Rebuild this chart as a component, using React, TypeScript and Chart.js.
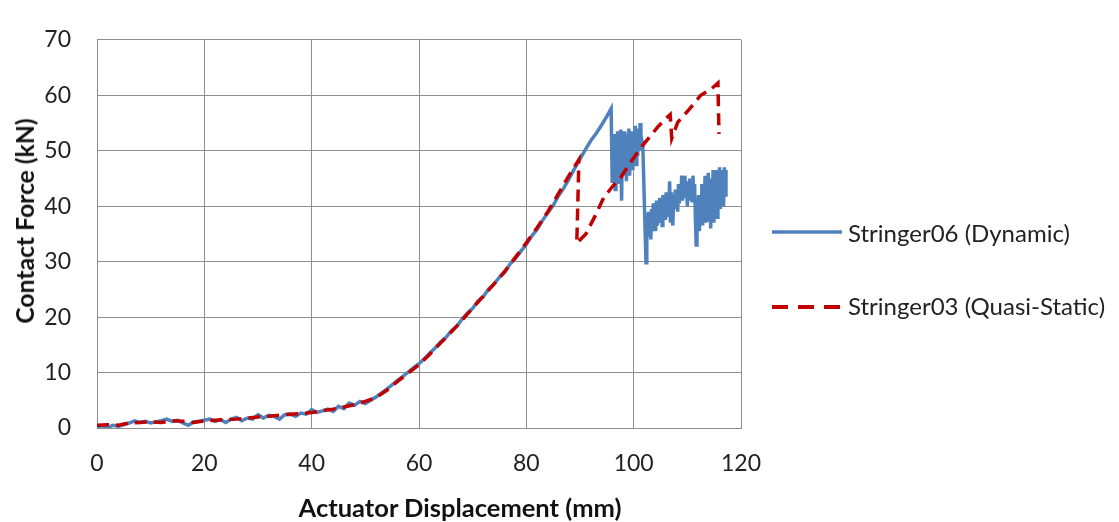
import { useEffect, useRef } from "react";
import { Chart, registerables } from "chart.js";

Chart.register(...registerables);

// ---------- DATA ----------
const dynamicDisp = [
  0, 1, 2, 3, 4, 5, 6, 7, 8, 9, 10, 11, 12, 13, 14, 15, 16, 17, 18, 19, 20,
  21, 22, 23, 24, 25, 26, 27, 28, 29, 30, 31, 32, 33, 34, 35, 36, 37, 38, 39, 40,
  41, 42, 43, 44, 45, 46, 47, 48, 49, 50, 51, 52, 53, 54, 55, 56, 57, 58, 59, 60,
  61, 62, 63, 64, 65, 66, 67, 68, 69, 70, 71, 72, 73, 74, 75, 76, 77, 78, 79, 80,
  81, 82, 83, 84, 85, 86, 87, 88, 89, 90, 91, 92, 93, 94, 95, 95.8,
  96.0, 96.1, 96.25, 96.4, 96.55, 96.7, 96.85, 97.0, 97.15, 97.3, 97.45, 97.6, 97.75, 97.9,
  98.05, 98.2, 98.35, 98.5, 98.65, 98.8, 98.95, 99.1, 99.25, 99.4, 99.55, 99.7, 99.85,
  100.0, 100.15, 100.3, 100.45, 100.6, 100.75, 100.9, 101.05, 101.2, 101.35, 101.5, 101.7,
  102.3, 102.45, 102.6, 102.75, 102.9, 103.05, 103.2, 103.35, 103.5, 103.65, 103.8, 103.95,
  104.1, 104.25, 104.4, 104.55, 104.7, 104.85, 105.0, 105.15, 105.3, 105.45, 105.6, 105.75,
  105.9, 106.05, 106.2, 106.35, 106.5, 106.7, 106.85, 107.0, 107.15, 107.3, 107.45, 107.6,
  107.75, 107.9, 108.05, 108.2, 108.35, 108.5, 108.65, 108.8, 108.95, 109.1, 109.25, 109.4,
  109.55, 109.7, 109.85, 110.0, 110.15, 110.3, 110.45, 110.6, 110.75, 110.9, 111.05, 111.2,
  111.35, 111.5, 111.65, 111.8, 111.95, 112.1, 112.25, 112.4, 112.55, 112.7, 112.85, 113.0,
  113.15, 113.3, 113.45, 113.6, 113.75, 113.9, 114.05, 114.2, 114.35, 114.5, 114.65, 114.8,
  114.95, 115.1, 115.25, 115.4, 115.55, 115.7, 115.85, 116.0, 116.15, 116.3, 116.45, 116.6,
  116.75, 116.9, 117.05, 117.2,
];
const dynamicForce = [
  0.2, 0.4, 0.1, 0.5, 0.3, 0.6, 0.9, 1.3, 1.0, 1.2, 0.9, 1.1, 1.3, 1.6, 1.2, 1.4, 0.9, 0.5, 1.1, 1.2, 1.4,
  1.6, 1.2, 1.5, 1.0, 1.6, 1.9, 1.3, 1.8, 1.6, 2.4, 1.8, 2.3, 2.1, 1.6, 2.4, 2.5, 2.1, 2.7, 2.5, 3.3,
  2.8, 3.1, 3.4, 3.0, 3.9, 3.5, 4.5, 4.1, 4.8, 4.4, 5.0, 5.6, 6.3, 7.0, 7.8, 8.6, 9.3, 10.1, 10.9, 11.6,
  12.5, 13.5, 14.4, 15.5, 16.3, 17.5, 18.3, 19.6, 20.7, 21.6, 22.9, 23.7, 25.1, 26.0, 27.2, 28.1, 29.6, 30.6, 31.9, 33.1,
  34.6, 35.8, 37.4, 38.8, 40.1, 41.9, 43.3, 45.0, 46.8, 48.5, 50.2, 51.8, 53.1, 54.6, 56.2, 57.6,
  44.5, 52.5, 45.5, 53.0, 43.0, 52.0, 46.5, 53.5, 44.0, 52.5, 47.0, 53.8, 41.0, 52.0,
  45.5, 53.5, 46.0, 52.0, 44.5, 53.0, 47.0, 54.0, 45.5, 52.5, 47.5, 53.5, 46.5,
  52.0, 48.0, 54.5, 47.5, 53.0, 49.0, 54.0, 50.0, 55.0, 50.5, 52.0, 51.0,
  29.8, 38.0, 34.5, 39.0, 35.0, 38.5, 34.0, 39.5, 35.5, 40.5, 36.0, 39.0,
  35.5, 41.0, 36.5, 40.0, 37.0, 41.5, 38.0, 40.5, 36.5, 42.0, 38.5, 41.0,
  37.5, 42.5, 39.0, 41.5, 38.0, 44.5, 37.0, 42.5, 39.0, 36.5, 42.0, 39.5,
  43.0, 40.0, 42.5, 39.0, 44.0, 40.5, 43.0, 41.5, 45.5, 41.0, 44.5, 42.0,
  45.5, 41.5, 44.0, 40.0, 44.5, 41.0, 45.0, 42.5, 44.5, 41.0, 45.5, 42.0,
  44.0, 38.0, 33.0, 40.5, 36.0, 42.0, 35.5, 41.5, 37.0, 44.0, 36.5, 43.5,
  38.0, 45.5, 37.0, 42.5, 38.5, 46.0, 37.5, 44.5, 36.0, 45.0, 38.5, 46.5,
  37.0, 44.0, 39.0, 46.5, 38.0, 45.0, 40.5, 47.0, 39.5, 44.5, 41.0, 46.5,
  40.0, 47.0, 42.0, 46.5,
];

const quasiDisp = [
  0, 2, 4, 6, 8, 10, 12, 14, 16, 18, 20, 22, 24, 26, 28, 30, 32, 34, 36, 38, 40,
  42, 44, 46, 48, 50, 52, 54, 56, 58, 60, 62, 64, 66, 68, 70, 72, 74, 76, 78, 80,
  82, 84, 86, 88, 89.8, 89.4, 91.1, 92.8, 94.4, 96, 97.6, 99.5, 101.3, 103, 104.5,
  105.7, 106.8, 107.1, 108.2, 110.3, 112.5, 114.4, 115.7, 115.9,
];
const quasiForce = [
  0.5, 0.6, 0.5, 0.9, 1.0, 1.1, 1.0, 1.3, 1.2, 1.0, 1.3, 1.4, 1.5, 1.6, 1.8, 2.0, 2.1, 2.3, 2.5, 2.6, 2.8,
  3.1, 3.4, 3.8, 4.2, 4.8, 5.5, 6.8, 8.4, 9.9, 11.4, 13.3, 15.3, 17.3, 19.4, 21.6, 23.8, 26.0, 28.3, 30.8, 33.4,
  36.1, 39.0, 42.3, 45.6, 48.4, 33.3, 35.0, 38.2, 41.5, 43.5, 45.2, 48.0, 50.5, 52.5, 54.3,
  55.5, 56.5, 52.2, 55.1, 57.4, 60.0, 61.1, 62.2, 53.0,
];

const seriesNames = ["Stringer06 (Dynamic)", "Stringer03 (Quasi-Static)"];
const xTitle = "Actuator Displacement (mm)";
const yTitle = "Contact Force (kN)";

const FONT = "Lato, 'Noto Sans', sans-serif";
const BLUE = "#4F81BD";
const RED = "#C00000";
const GRID = "#8e8e8e";

const zip = (xs: number[], ys: number[]) => xs.map((x, i) => ({ x, y: ys[i] }));

export default function App() {
  const ref = useRef<HTMLCanvasElement | null>(null);

  useEffect(() => {
    if (!ref.current) return;
    const chart = new Chart(ref.current, {
      type: "scatter",
      data: {
        datasets: [
          {
            label: seriesNames[0],
            data: zip(dynamicDisp, dynamicForce),
            showLine: true,
            borderColor: BLUE,
            backgroundColor: BLUE,
            borderWidth: 3.5,
            pointRadius: 0,
            tension: 0,
            order: 1,
          },
          {
            label: seriesNames[1],
            data: zip(quasiDisp, quasiForce),
            showLine: true,
            borderColor: RED,
            backgroundColor: RED,
            borderWidth: 3.5,
            borderDash: [12, 7],
            pointRadius: 0,
            tension: 0,
            order: 0,
          },
        ],
      },
      options: {
        responsive: false,
        animation: false,
        layout: { padding: { left: 0, top: 18, right: 1119 - 741, bottom: 0 } },
        plugins: { legend: { display: false }, tooltip: { enabled: false } },
        scales: {
          x: {
            type: "linear",
            min: 0,
            max: 120,
            afterFit: (s: any) => { s.height = 94; },
            ticks: { stepSize: 20, color: "#222", font: { family: FONT, size: 23 }, padding: 22 },
            grid: { color: GRID, drawTicks: false, lineWidth: 1 },
            border: { color: GRID },
          },
          y: {
            type: "linear",
            min: 0,
            max: 70,
            afterFit: (s: any) => { s.width = 97; },
            ticks: { stepSize: 10, color: "#222", font: { family: FONT, size: 23 }, padding: 26 },
            grid: { color: GRID, drawTicks: false, lineWidth: 1 },
            border: { color: GRID },
          },
        },
      },
    });
    return () => chart.destroy();
  }, []);

  const legendText: React.CSSProperties = {
    position: "absolute",
    left: 848,
    fontFamily: FONT,
    fontSize: 24,
    color: "#222",
    whiteSpace: "nowrap",
    lineHeight: "28px",
  };

  return (
    <div style={{ position: "fixed", left: 0, top: 0, width: 1119, height: 522, background: "#fff", overflow: "hidden" }}>
      <canvas ref={ref} width={1119} height={522} style={{ position: "absolute", left: 0, top: 0 }} />
      <div
        style={{
          position: "absolute", left: 460, top: 507, transform: "translate(-50%, -50%)",
          fontFamily: FONT, fontWeight: 700, fontSize: 25.5, color: "#111", whiteSpace: "nowrap", lineHeight: "30px",
        }}
      >
        {xTitle}
      </div>
      <div
        style={{
          position: "absolute", left: 25, top: 221, transform: "translate(-50%, -50%) rotate(-90deg)",
          fontFamily: FONT, fontWeight: 700, fontSize: 24.7, color: "#111", whiteSpace: "nowrap", lineHeight: "30px",
        }}
      >
        {yTitle}
      </div>
      <svg width={80} height={10} style={{ position: "absolute", left: 770, top: 227 }}>
        <line x1={2} y1={5} x2={72} y2={5} stroke={BLUE} strokeWidth={3.5} />
      </svg>
      <div style={{ ...legendText, top: 219 }}>{seriesNames[0]}</div>
      <svg width={80} height={10} style={{ position: "absolute", left: 770, top: 302 }}>
        <line x1={2} y1={5} x2={72} y2={5} stroke={RED} strokeWidth={4} strokeDasharray="16 10" />
      </svg>
      <div style={{ ...legendText, top: 292 }}>{seriesNames[1]}</div>
    </div>
  );
}
